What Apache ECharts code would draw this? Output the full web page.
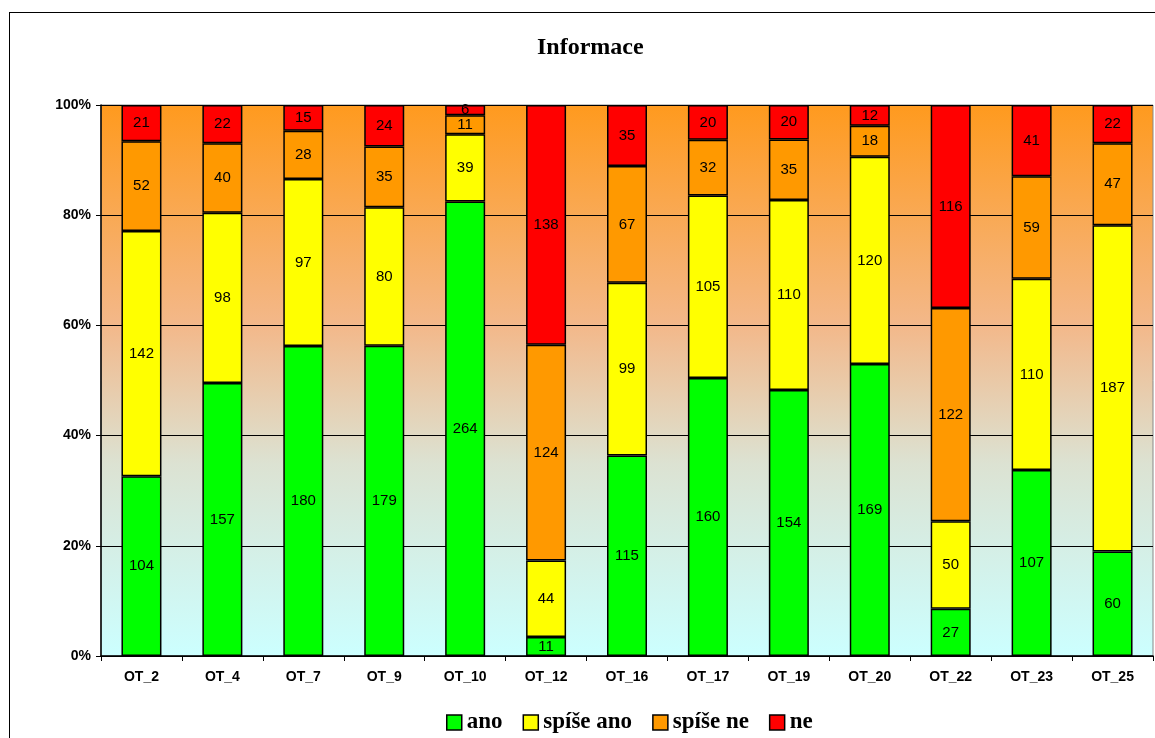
<!DOCTYPE html>
<html>
<head>
<meta charset="utf-8">
<script src="https://cdn.jsdelivr.net/npm/echarts@6/dist/echarts.min.js"></script>
<style>
  html, body { margin: 0; padding: 0; background: #fff; }
  #chart { width: 1155px; height: 738px; }
  #frame { position: absolute; left: 9px; top: 12px; width: 1200px; height: 800px; border: 1px solid #000; pointer-events: none; }
</style>
</head>
<body>
<div id="frame"></div>
<div id="chart"></div>
<script>
const categories = ['OT_2', 'OT_4', 'OT_7', 'OT_9', 'OT_10', 'OT_12', 'OT_16', 'OT_17', 'OT_19', 'OT_20', 'OT_22', 'OT_23', 'OT_25'];
const ano = [104, 157, 180, 179, 264, 11, 115, 160, 154, 169, 27, 107, 60];
const spiseAno = [142, 98, 97, 80, 39, 44, 99, 105, 110, 120, 50, 110, 187];
const spiseNe = [52, 40, 28, 35, 11, 124, 67, 32, 35, 18, 122, 59, 47];
const ne = [21, 22, 15, 24, 6, 138, 35, 20, 20, 12, 116, 41, 22];
const yTicks = ['0%', '20%', '40%', '60%', '80%', '100%'];

const totals = categories.map((_, i) => ano[i] + spiseAno[i] + spiseNe[i] + ne[i]);

const chart = echarts.init(document.getElementById('chart'));

function makeSeries(name, counts, color) {
  return {
    name: name,
    type: 'bar',
    stack: 'total',
    barWidth: 40,
    itemStyle: { color: color, borderColor: '#000', borderWidth: 1.5 },
    label: {
      show: true,
      position: 'inside',
      color: '#000',
      fontFamily: 'Liberation Sans, Arial, sans-serif',
      fontSize: 15,
      formatter: p => counts[p.dataIndex]
    },
    data: counts.map((v, i) => v / totals[i] * 100)
  };
}

chart.setOption({
  animation: false,
  title: {
    text: 'Informace',
    left: 532,
    top: 31,
    textStyle: { fontFamily: 'Liberation Serif, Times New Roman, serif', fontWeight: 'bold', fontSize: 24, color: '#000' }
  },
  legend: {
    bottom: -1,
    left: 441,
    itemWidth: 15,
    itemHeight: 15,
    itemGap: 20,
    icon: 'rect',
    itemStyle: { borderColor: '#000', borderWidth: 1.5 },
    textStyle: { fontFamily: 'Liberation Serif, Times New Roman, serif', fontWeight: 'bold', fontSize: 23, color: '#000' },
    data: ['ano', 'spíše ano', 'spíše ne', 'ne']
  },
  grid: {
    left: 101,
    right: 2,
    top: 105,
    bottom: 82,
    show: true,
    borderColor: '#888',
    borderWidth: 1,
    backgroundColor: new echarts.graphic.LinearGradient(0, 0, 0, 1, [
      { offset: 0, color: '#FF9A1E' },
      { offset: 0.4, color: '#F3B88A' },
      { offset: 0.65, color: '#DCE2D2' },
      { offset: 1, color: '#CCFFFF' }
    ])
  },
  xAxis: {
    type: 'category',
    data: categories,
    axisLine: { lineStyle: { color: '#000', width: 1.5 } },
    axisTick: { show: true, alignWithLabel: false, length: 5, lineStyle: { color: '#000' } },
    axisLabel: { color: '#000', fontFamily: 'Liberation Sans, Arial, sans-serif', fontWeight: 'bold', fontSize: 14, margin: 14 }
  },
  yAxis: {
    type: 'value',
    min: 0,
    max: 100,
    interval: 20,
    axisLine: { show: true, lineStyle: { color: '#000', width: 1.5 } },
    axisTick: { show: true, length: 5, lineStyle: { color: '#000' } },
    splitLine: { lineStyle: { color: '#000', width: 1 } },
    axisLabel: {
      color: '#000',
      fontFamily: 'Liberation Sans, Arial, sans-serif',
      fontWeight: 'bold',
      fontSize: 14,
      margin: 10,
      formatter: v => yTicks[Math.round(v / 20)]
    }
  },
  series: [
    makeSeries('ano', ano, '#00FF00'),
    makeSeries('spíše ano', spiseAno, '#FFFF00'),
    makeSeries('spíše ne', spiseNe, '#FF9900'),
    makeSeries('ne', ne, '#FF0000')
  ]
});
</script>
</body>
</html>
